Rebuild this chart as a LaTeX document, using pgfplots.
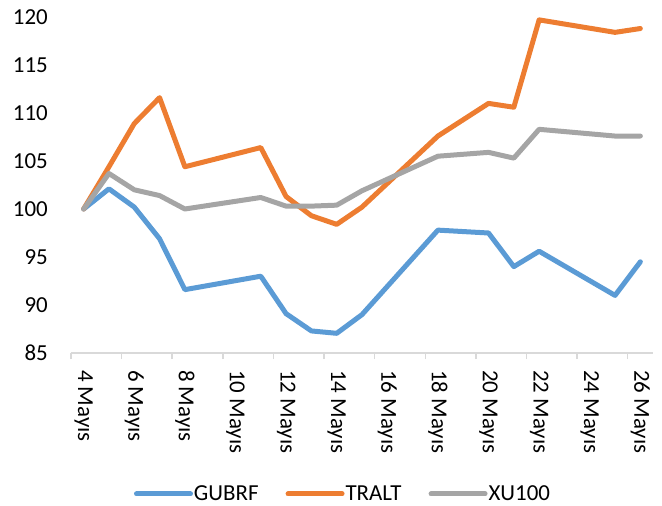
\documentclass[border=0pt]{standalone}
\usepackage{fontspec}
\setmainfont{Carlito}
\usepackage{pgfplots}
\pgfplotsset{compat=1.18}
\usetikzlibrary{calc}
\definecolor{cblue}{HTML}{5B9BD5}
\definecolor{corange}{HTML}{ED7D31}
\definecolor{cgray}{HTML}{A5A5A5}
\definecolor{caxis}{HTML}{D9D9D9}
\begin{document}
\begin{tikzpicture}
\begin{axis}[
  name=ax,
  scale only axis,
  width=582bp, height=336bp,
  xmin=-0.5, xmax=22.5,
  ymin=85, ymax=120,
  ytick={85,90,...,120},
  axis x line*=bottom,
  axis y line*=left,
  x axis line style={-, draw=caxis, line width=1.5bp},
  y axis line style={draw=none},
  xtick={-0.5,1.5,...,21.5},
  xticklabels={},
  xtick align=outside,
  major tick length=6bp,
  x tick style={draw=caxis, line width=1.5bp},
  y tick style={draw=none},
  extra x ticks={0,2,...,22},
  extra x tick labels={4 Mayıs,6 Mayıs,8 Mayıs,10 Mayıs,12 Mayıs,14 Mayıs,16 Mayıs,18 Mayıs,20 Mayıs,22 Mayıs,24 Mayıs,26 Mayıs},
  extra x tick style={major tick length=0pt, tick style={draw=none}},
  xticklabel style={yshift=-17bp, rotate=-90, anchor=west, inner sep=0pt, font=\fontsize{23}{26}\selectfont},
  yticklabel style={anchor=east, inner sep=0pt, xshift=-23bp, font=\fontsize{23}{26}\selectfont},
  /pgf/number format/assume math mode=true,
  legend columns=3,
  legend style={at={(axis description cs:0.4665,-0.4196)}, anchor=center, draw=none, fill=none,
    font=\fontsize{23}{26}\selectfont,
    /tikz/every even column/.style={column sep=26bp},
    nodes={inner sep=1bp}},
  legend image code/.code={\draw[#1, line width=5bp, line cap=round] (0bp,0bp) -- (54bp,0bp);},
  every axis plot/.append style={line width=5bp, line join=round, line cap=round, mark=none},
]
\addplot[cblue] coordinates {(0,100) (1,102.1) (2,100.2) (3,96.9) (4,91.6) (7,93.0) (8,89.1) (9,87.3) (10,87.05) (11,89.0) (14,97.8) (16,97.5) (17,94.0) (18,95.6) (21,91.0) (22,94.5)};
\addlegendentry{GUBRF}
\addplot[corange] coordinates {(0,100) (1,104.4) (2,108.9) (3,111.6) (4,104.4) (7,106.4) (8,101.3) (9,99.3) (10,98.4) (11,100.2) (14,107.6) (16,111.0) (17,110.6) (18,119.7) (21,118.4) (22,118.8)};
\addlegendentry{TRALT}
\addplot[cgray] coordinates {(0,100) (1,103.7) (2,102.0) (3,101.4) (4,100.0) (7,101.2) (8,100.3) (9,100.3) (10,100.4) (11,101.9) (14,105.5) (16,105.9) (17,105.3) (18,108.3) (21,107.6) (22,107.6)};
\addlegendentry{XU100}
\end{axis}
\pgfresetboundingbox
\path ($(ax.south west)+(-71bp,-153bp)$) rectangle ($(ax.north east)+(9bp,17bp)$);
\end{tikzpicture}
\end{document}
